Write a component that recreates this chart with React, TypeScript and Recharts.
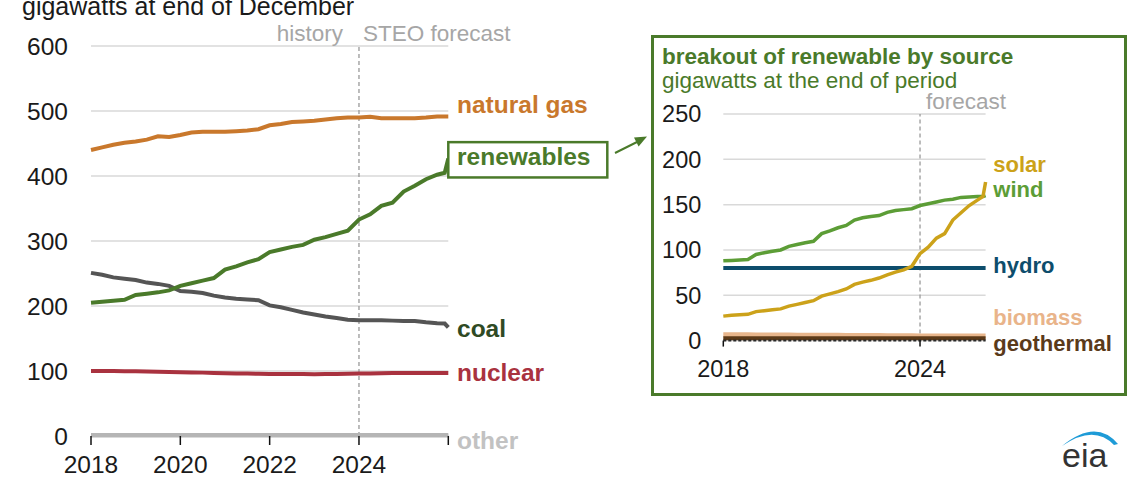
import React from 'react';
import { LineChart, Line, XAxis, YAxis, CartesianGrid, ReferenceLine, ReferenceDot } from 'recharts';

// ---------- data ----------
const years = [2018, 2018.25, 2018.5, 2018.75, 2019, 2019.25, 2019.5, 2019.75, 2020, 2020.25, 2020.5, 2020.75, 2021, 2021.25, 2021.5, 2021.75, 2022, 2022.25, 2022.5, 2022.75, 2023, 2023.25, 2023.5, 2023.75, 2024, 2024.25, 2024.5, 2024.75, 2025, 2025.25, 2025.5, 2025.75, 2025.92, 2026];

const naturalGas = [440, 444, 448, 451, 453, 456, 461, 460, 463, 467, 468, 468, 468, 469, 470, 472, 478, 480, 483, 484, 485, 487, 489, 490, 490, 491, 489, 489, 489, 489, 490, 491.5, 491.5, 491.5];
const renewables = [205, 206.5, 208, 209.5, 217, 219, 221, 224, 231, 235, 239, 243, 256, 261, 267, 272, 283, 287, 291, 294, 302, 306, 311, 316, 333, 341, 354, 359, 376, 385, 395, 402, 405, 427];
const coal = [251, 248, 244, 242, 240, 236, 234, 231, 223, 222, 220, 216, 213, 211, 210, 209, 201, 198, 194, 190, 187, 184, 181.5, 179, 178, 178, 178, 177.5, 177, 177, 175, 173.5, 173, 167];
const nuclear = [100, 100, 100, 99.8, 99.5, 99.3, 99, 98.5, 98, 97.8, 97.5, 97, 96.5, 96.2, 96, 95.8, 95.5, 95.5, 95.5, 95.2, 95, 95.2, 95.5, 95.8, 96, 96.3, 96.5, 96.8, 97, 97, 97, 97, 97, 97];
const other = [1.5, 1.5, 1.5, 1.5, 1.5, 1.5, 1.5, 1.5, 1.5, 1.5, 1.5, 1.5, 1.5, 1.5, 1.5, 1.5, 1.5, 1.5, 1.5, 1.5, 1.5, 1.5, 1.5, 1.5, 1.5, 1.5, 1.5, 1.5, 1.5, 1.5, 1.5, 1.5, 1.5, 1.5];

const wind = [88, 88.5, 89, 89.5, 95, 97, 98.5, 100, 104, 106, 108, 109.5, 118, 121, 124.5, 127, 133, 135.5, 137, 138, 141.5, 143.5, 144.5, 145.5, 149, 151, 153, 155, 156, 158, 158.5, 159, 159, 160];
const solar = [27, 28, 28.5, 29, 32, 33, 34, 35, 38, 40, 42, 44, 49, 51.5, 54, 57, 62, 64.5, 66.5, 69, 72.5, 75.5, 78, 82, 96, 103, 113, 118, 133, 141, 149, 155, 159, 175];
const hydro = [80, 80, 80, 80, 80, 80, 80, 80, 80, 80, 80, 80, 80, 80, 80, 80, 80, 80, 80, 80, 80, 80, 80, 80, 80, 80, 80, 80, 80, 80, 80, 80, 80, 80];
const biomass = [6.5, 6.5, 6.4, 6.4, 6.3, 6.3, 6.2, 6.2, 6.1, 6.0, 6.0, 5.9, 5.9, 5.8, 5.8, 5.7, 5.6, 5.6, 5.5, 5.5, 5.4, 5.4, 5.3, 5.3, 5.2, 5.2, 5.1, 5.1, 5.0, 5.0, 5.0, 5.0, 5.0, 5.0];
const geothermal = [2.5, 2.5, 2.5, 2.5, 2.5, 2.5, 2.5, 2.5, 2.5, 2.5, 2.5, 2.5, 2.5, 2.5, 2.5, 2.5, 2.5, 2.5, 2.5, 2.5, 2.5, 2.5, 2.5, 2.5, 2.5, 2.5, 2.5, 2.5, 2.5, 2.5, 2.5, 2.5, 2.5, 2.5];

const mainXTicks = [2018, 2020, 2022, 2024, 2026];
const mainXTickLabels = ['2018', '2020', '2022', '2024', ''];
const mainYTicks = [0, 100, 200, 300, 400, 500, 600];
const insetXTicks = [2018, 2024];
const insetYTicks = [0, 50, 100, 150, 200, 250];

const forecastStart = 2024;

// ---------- tables ----------
const mainData = years.map((year, i) => ({
  year,
  gas: naturalGas[i],
  renew: renewables[i],
  coal: coal[i],
  nuclear: nuclear[i],
  other: other[i],
}));

const insetData = years.map((year, i) => ({
  year,
  wind: wind[i],
  solar: solar[i],
  hydro: hydro[i],
  biomass: biomass[i],
  geothermal: geothermal[i],
}));

const last = years.length - 1;
const FONT = '"Liberation Sans", Arial, Helvetica, sans-serif';

const C = {
  gas: '#c9782c',
  renew: '#4a7a2a',
  coal: '#555555',
  coalLabel: '#2f4a24',
  nuclear: '#a9323f',
  other: '#b5b5b5',
  otherLabel: '#c2c2c2',
  wind: '#5c9d36',
  solar: '#cca21a',
  hydro: '#0d4d6c',
  biomass: '#e8b68c',
  geothermal: '#5c3a18',
  grid: '#d9d9d9',
  dash: '#9a9a9a',
  gray: '#a6a6a6',
};

const center = (props: any) => {
  const vb = props.viewBox || {};
  return { x: (vb.x ?? 0) + (vb.width ?? 0) / 2, y: (vb.y ?? 0) + (vb.height ?? 0) / 2 };
};

const endLabel = (text: string, color: string, dx: number, dy: number, size: number) => (props: any) => {
  const { x, y } = center(props);
  return (
    <text x={x + dx} y={y + dy} fill={color} fontSize={size} fontWeight="bold" fontFamily={FONT}>
      {text}
    </text>
  );
};

const renewLabel = (props: any) => {
  const { x, y } = center(props);
  return (
    <g>
      <rect x={x} y={y - 16.3} width={159} height={35.3} fill="#ffffff" stroke={C.renew} strokeWidth={2.5} />
      <text x={x + 8.7} y={y + 7} fill={C.renew} fontSize={24.5} fontWeight="bold" fontFamily={FONT}>
        renewables
      </text>
    </g>
  );
};

const historyLabel = (props: any) => {
  const vb = props.viewBox || {};
  const x = vb.x ?? 0;
  const y = vb.y ?? 0;
  return (
    <g>
      <text x={x - 16} y={y - 5} fill={C.gray} fontSize={22.5} textAnchor="end" fontFamily={FONT}>history</text>
      <text x={x + 4} y={y - 5} fill={C.gray} fontSize={22.5} textAnchor="start" fontFamily={FONT}>STEO forecast</text>
    </g>
  );
};

const forecastLabel = (props: any) => {
  const vb = props.viewBox || {};
  const x = vb.x ?? 0;
  const y = vb.y ?? 0;
  return (
    <text x={x + 6} y={y - 5.5} fill={C.gray} fontSize={22.5} textAnchor="start" fontFamily={FONT}>forecast</text>
  );
};

const MainChart = () => (
  <LineChart width={650} height={500} data={mainData} margin={{ top: 46, right: 201.7, bottom: 24, left: 0 }}>
    <CartesianGrid vertical={false} stroke={C.grid} strokeWidth={1.5} />
    <XAxis
      dataKey="year"
      type="number"
      domain={[2018, 2026]}
      ticks={mainXTicks}
      interval={0}
      height={40}
      tickFormatter={(v: number) => mainXTickLabels[mainXTicks.indexOf(v)] ?? ''}
      tickSize={9}
      tickMargin={11}
      tick={{ fontSize: 24.5, fill: '#1a1a1a', fontFamily: FONT }}
      axisLine={{ stroke: C.other, strokeWidth: 3 }}
      tickLine={{ stroke: '#111', strokeWidth: 1.5 }}
    />
    <YAxis
      type="number"
      domain={[0, 600]}
      ticks={mainYTicks}
      interval={0}
      width={91}
      tickSize={0}
      tickMargin={23}
      axisLine={false}
      tickLine={false}
      tick={{ fontSize: 24.5, fill: '#1a1a1a', fontFamily: FONT }}
    />
    <ReferenceLine x={forecastStart} stroke={C.dash} strokeDasharray="4 3" strokeWidth={1.3} label={historyLabel} />
    <Line dataKey="other" stroke={C.other} strokeWidth={4} dot={false} isAnimationActive={false} />
    <Line dataKey="nuclear" stroke={C.nuclear} strokeWidth={4} dot={false} isAnimationActive={false} />
    <Line dataKey="coal" stroke={C.coal} strokeWidth={4} dot={false} isAnimationActive={false} />
    <Line dataKey="renew" stroke={C.renew} strokeWidth={4} dot={false} isAnimationActive={false} />
    <Line dataKey="gas" stroke={C.gas} strokeWidth={4} dot={false} isAnimationActive={false} />
    <ReferenceDot x={years[last]} y={naturalGas[last]} r={0.1} fill="none" stroke="none" ifOverflow="visible" label={endLabel('natural gas', C.gas, 8.7, -3.5, 24.5)} />
    <ReferenceDot x={years[last]} y={renewables[last]} r={0.1} fill="none" stroke="none" ifOverflow="visible" label={renewLabel} />
    <ReferenceDot x={years[last]} y={coal[last]} r={0.1} fill="none" stroke="none" ifOverflow="visible" label={endLabel('coal', C.coalLabel, 8.7, 9.5, 24.5)} />
    <ReferenceDot x={years[last]} y={nuclear[last]} r={0.1} fill="none" stroke="none" ifOverflow="visible" label={endLabel('nuclear', C.nuclear, 8.7, 8, 24.5)} />
    <ReferenceDot x={years[last]} y={other[last]} r={0.1} fill="none" stroke="none" ifOverflow="visible" label={endLabel('other', C.otherLabel, 8.7, 14, 24.5)} />
  </LineChart>
);

const InsetChart = () => (
  <LineChart width={470} height={355} data={insetData} margin={{ top: 78, right: 136.4, bottom: 10.4, left: 0 }}>
    <CartesianGrid vertical={false} stroke={C.grid} strokeWidth={1.5} />
    <XAxis
      dataKey="year"
      type="number"
      domain={[2018, 2026]}
      ticks={insetXTicks}
      interval={0}
      height={40}
      tickSize={6}
      tickMargin={13.4}
      tick={{ fontSize: 23.5, fill: '#1a1a1a', fontFamily: FONT }}
      axisLine={{ stroke: '#2a2a2a', strokeWidth: 2, strokeDasharray: '3 2' }}
      tickLine={{ stroke: '#111', strokeWidth: 1.5 }}
    />
    <YAxis
      type="number"
      domain={[0, 250]}
      ticks={insetYTicks}
      interval={0}
      width={71.3}
      tickSize={0}
      tickMargin={22}
      axisLine={false}
      tickLine={false}
      tick={{ fontSize: 23.5, fill: '#1a1a1a', fontFamily: FONT }}
    />
    <ReferenceLine x={forecastStart} stroke={C.dash} strokeDasharray="4 3" strokeWidth={1.3} label={forecastLabel} />
    <Line dataKey="biomass" stroke={C.biomass} strokeWidth={5} dot={false} isAnimationActive={false} />
    <Line dataKey="geothermal" stroke={C.geothermal} strokeWidth={4} dot={false} isAnimationActive={false} />
    <Line dataKey="hydro" stroke={C.hydro} strokeWidth={4} dot={false} isAnimationActive={false} />
    <Line dataKey="wind" stroke={C.wind} strokeWidth={3.5} dot={false} isAnimationActive={false} />
    <Line dataKey="solar" stroke={C.solar} strokeWidth={3.5} dot={false} isAnimationActive={false} />
    <ReferenceDot x={years[last]} y={solar[last]} r={0.1} fill="none" stroke="none" ifOverflow="visible" label={endLabel('solar', C.solar, 7.7, -10.3, 22)} />
    <ReferenceDot x={years[last]} y={wind[last]} r={0.1} fill="none" stroke="none" ifOverflow="visible" label={endLabel('wind', C.wind, 7.7, 1, 22)} />
    <ReferenceDot x={years[last]} y={hydro[last]} r={0.1} fill="none" stroke="none" ifOverflow="visible" label={endLabel('hydro', C.hydro, 7.7, 5, 22)} />
    <ReferenceDot x={years[last]} y={biomass[last]} r={0.1} fill="none" stroke="none" ifOverflow="visible" label={endLabel('biomass', '#e9b48a', 7.7, -11, 22)} />
    <ReferenceDot x={years[last]} y={geothermal[last]} r={0.1} fill="none" stroke="none" ifOverflow="visible" label={endLabel('geothermal', '#5a3a1a', 7.7, 12.4, 22)} />
  </LineChart>
);

export default function App() {
  return (
    <div style={{ position: 'absolute', left: 0, top: 0, width: 1140, height: 500, background: '#ffffff', fontFamily: FONT, overflow: 'hidden' }}>
      <div style={{ position: 'absolute', left: 0, top: 0 }}>
        <MainChart />
      </div>
      <div style={{ position: 'absolute', left: 651, top: 35, width: 476, height: 361, boxSizing: 'border-box', border: `3px solid ${C.renew}` }} />
      <div style={{ position: 'absolute', left: 652, top: 36 }}>
        <InsetChart />
      </div>
      <svg width={1140} height={500} style={{ position: 'absolute', left: 0, top: 0, pointerEvents: 'none' }}>
        <text x={22} y={15} fontSize={25} fill="#1a1a1a" fontFamily={FONT}>gigawatts at end of December</text>
        <text x={662} y={64} fontSize={22.5} fontWeight="bold" fill={C.renew} fontFamily={FONT}>breakout of renewable by source</text>
        <text x={662} y={88} fontSize={22.5} fill={C.renew} fontFamily={FONT}>gigawatts at the end of period</text>
        <line x1={615} y1={153} x2={637} y2={142} stroke={C.renew} strokeWidth={2} />
        <polygon points="647,136.5 634,137.6 638.6,146.4" fill={C.renew} />
        <path d="M1062,446 Q1096,418 1118,444 L1114,445 Q1094,424 1062,446 Z" fill="#1e9bd7" />
        <text x={1062} y={467} fontSize={34} fill="#333333" fontFamily={FONT}>eia</text>
      </svg>
    </div>
  );
}
